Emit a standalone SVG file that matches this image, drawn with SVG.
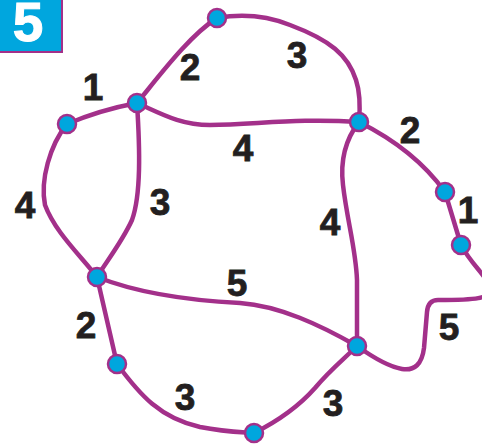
<svg xmlns="http://www.w3.org/2000/svg" width="482" height="444" viewBox="0 0 482 444">
<style>
.e{fill:none;stroke:#A3308A;stroke-width:4.5;stroke-linecap:round;stroke-linejoin:round}
.n{fill:#00A6DE;stroke:#A3308A;stroke-width:2.5}
.l{font-family:"Liberation Sans",Arial,sans-serif;font-weight:bold;font-size:37px;fill:#231F20;stroke:#231F20;stroke-width:0.8;text-anchor:middle}
</style>
<rect width="482" height="444" fill="#fff"/>
<g id="badge">
<rect x="0" y="0" width="63" height="53" fill="#A3308A"/>
<rect x="0" y="0" width="61" height="51" fill="#00A6DE"/>
<text x="28" y="41" font-family="Liberation Sans,Arial,sans-serif" font-weight="bold" font-size="55" fill="#fff" stroke="#fff" stroke-width="1" text-anchor="middle">5</text>
</g>
<g id="edges">
<path class="e" d="M67,124 Q100,110 137,103"/>
<path class="e" d="M137,103 C160,75 190,35 217,18"/>
<path class="e" d="M217,18 C240,14 265,15 290,25 C330,40 348,55 356,80 C361,95 360,110 359,122"/>
<path class="e" d="M137,103 C160,113 180,125 210,125 C260,124 300,118 359,122"/>
<path class="e" d="M67,124 C50,145 40,180 45,205 C55,232 80,255 97,277"/>
<path class="e" d="M137,103 C140,150 141,195 132,220 C122,242 106,262 97,277"/>
<path class="e" d="M359,122 Q415,150 445,192"/>
<path class="e" d="M445,192 L461,245"/>
<path class="e" d="M359,122 C345,140 340,160 343,185 C347,220 356,250 357,280 L357,346"/>
<path class="e" d="M97,277 C130,290 180,300 240,303 C280,306 320,325 357,346"/>
<path class="e" d="M97,277 L117,364"/>
<path class="e" d="M117,364 C140,395 160,418 200,427 C225,432 240,432 254,433"/>
<path class="e" d="M254,433 C280,420 300,405 315,388 C330,370 345,358 357,346"/>
<path class="e" d="M461,245 C470,262 482,272 490,285 C496,300 470,300 438,300 Q428,300 427,312 L424,348 Q421,372 402,369 Q385,366 357,346"/>
</g>
<g id="nodes">
<circle id="A" class="n" cx="67" cy="124" r="9"/>
<circle id="B" class="n" cx="137" cy="103" r="9"/>
<circle id="C" class="n" cx="217" cy="18" r="9"/>
<circle id="D" class="n" cx="359" cy="122" r="9"/>
<circle id="E" class="n" cx="445" cy="192" r="9"/>
<circle id="F" class="n" cx="461" cy="245" r="9"/>
<circle id="G" class="n" cx="97" cy="277" r="9"/>
<circle id="H" class="n" cx="117" cy="364" r="9"/>
<circle id="I" class="n" cx="357" cy="346" r="9"/>
<circle id="J" class="n" cx="254" cy="433" r="9"/>
</g>
<g id="labels">
<text class="l" x="93" y="100">1</text>
<text class="l" x="190" y="80">2</text>
<text class="l" x="297" y="68">3</text>
<text class="l" x="243" y="161">4</text>
<text class="l" x="410" y="143">2</text>
<text class="l" x="468" y="223">1</text>
<text class="l" x="25" y="218">4</text>
<text class="l" x="160" y="215">3</text>
<text class="l" x="330" y="235">4</text>
<text class="l" x="237" y="296">5</text>
<text class="l" x="86" y="338">2</text>
<text class="l" x="185" y="410">3</text>
<text class="l" x="333" y="416">3</text>
<text class="l" x="449" y="340">5</text>
</g>
</svg>
